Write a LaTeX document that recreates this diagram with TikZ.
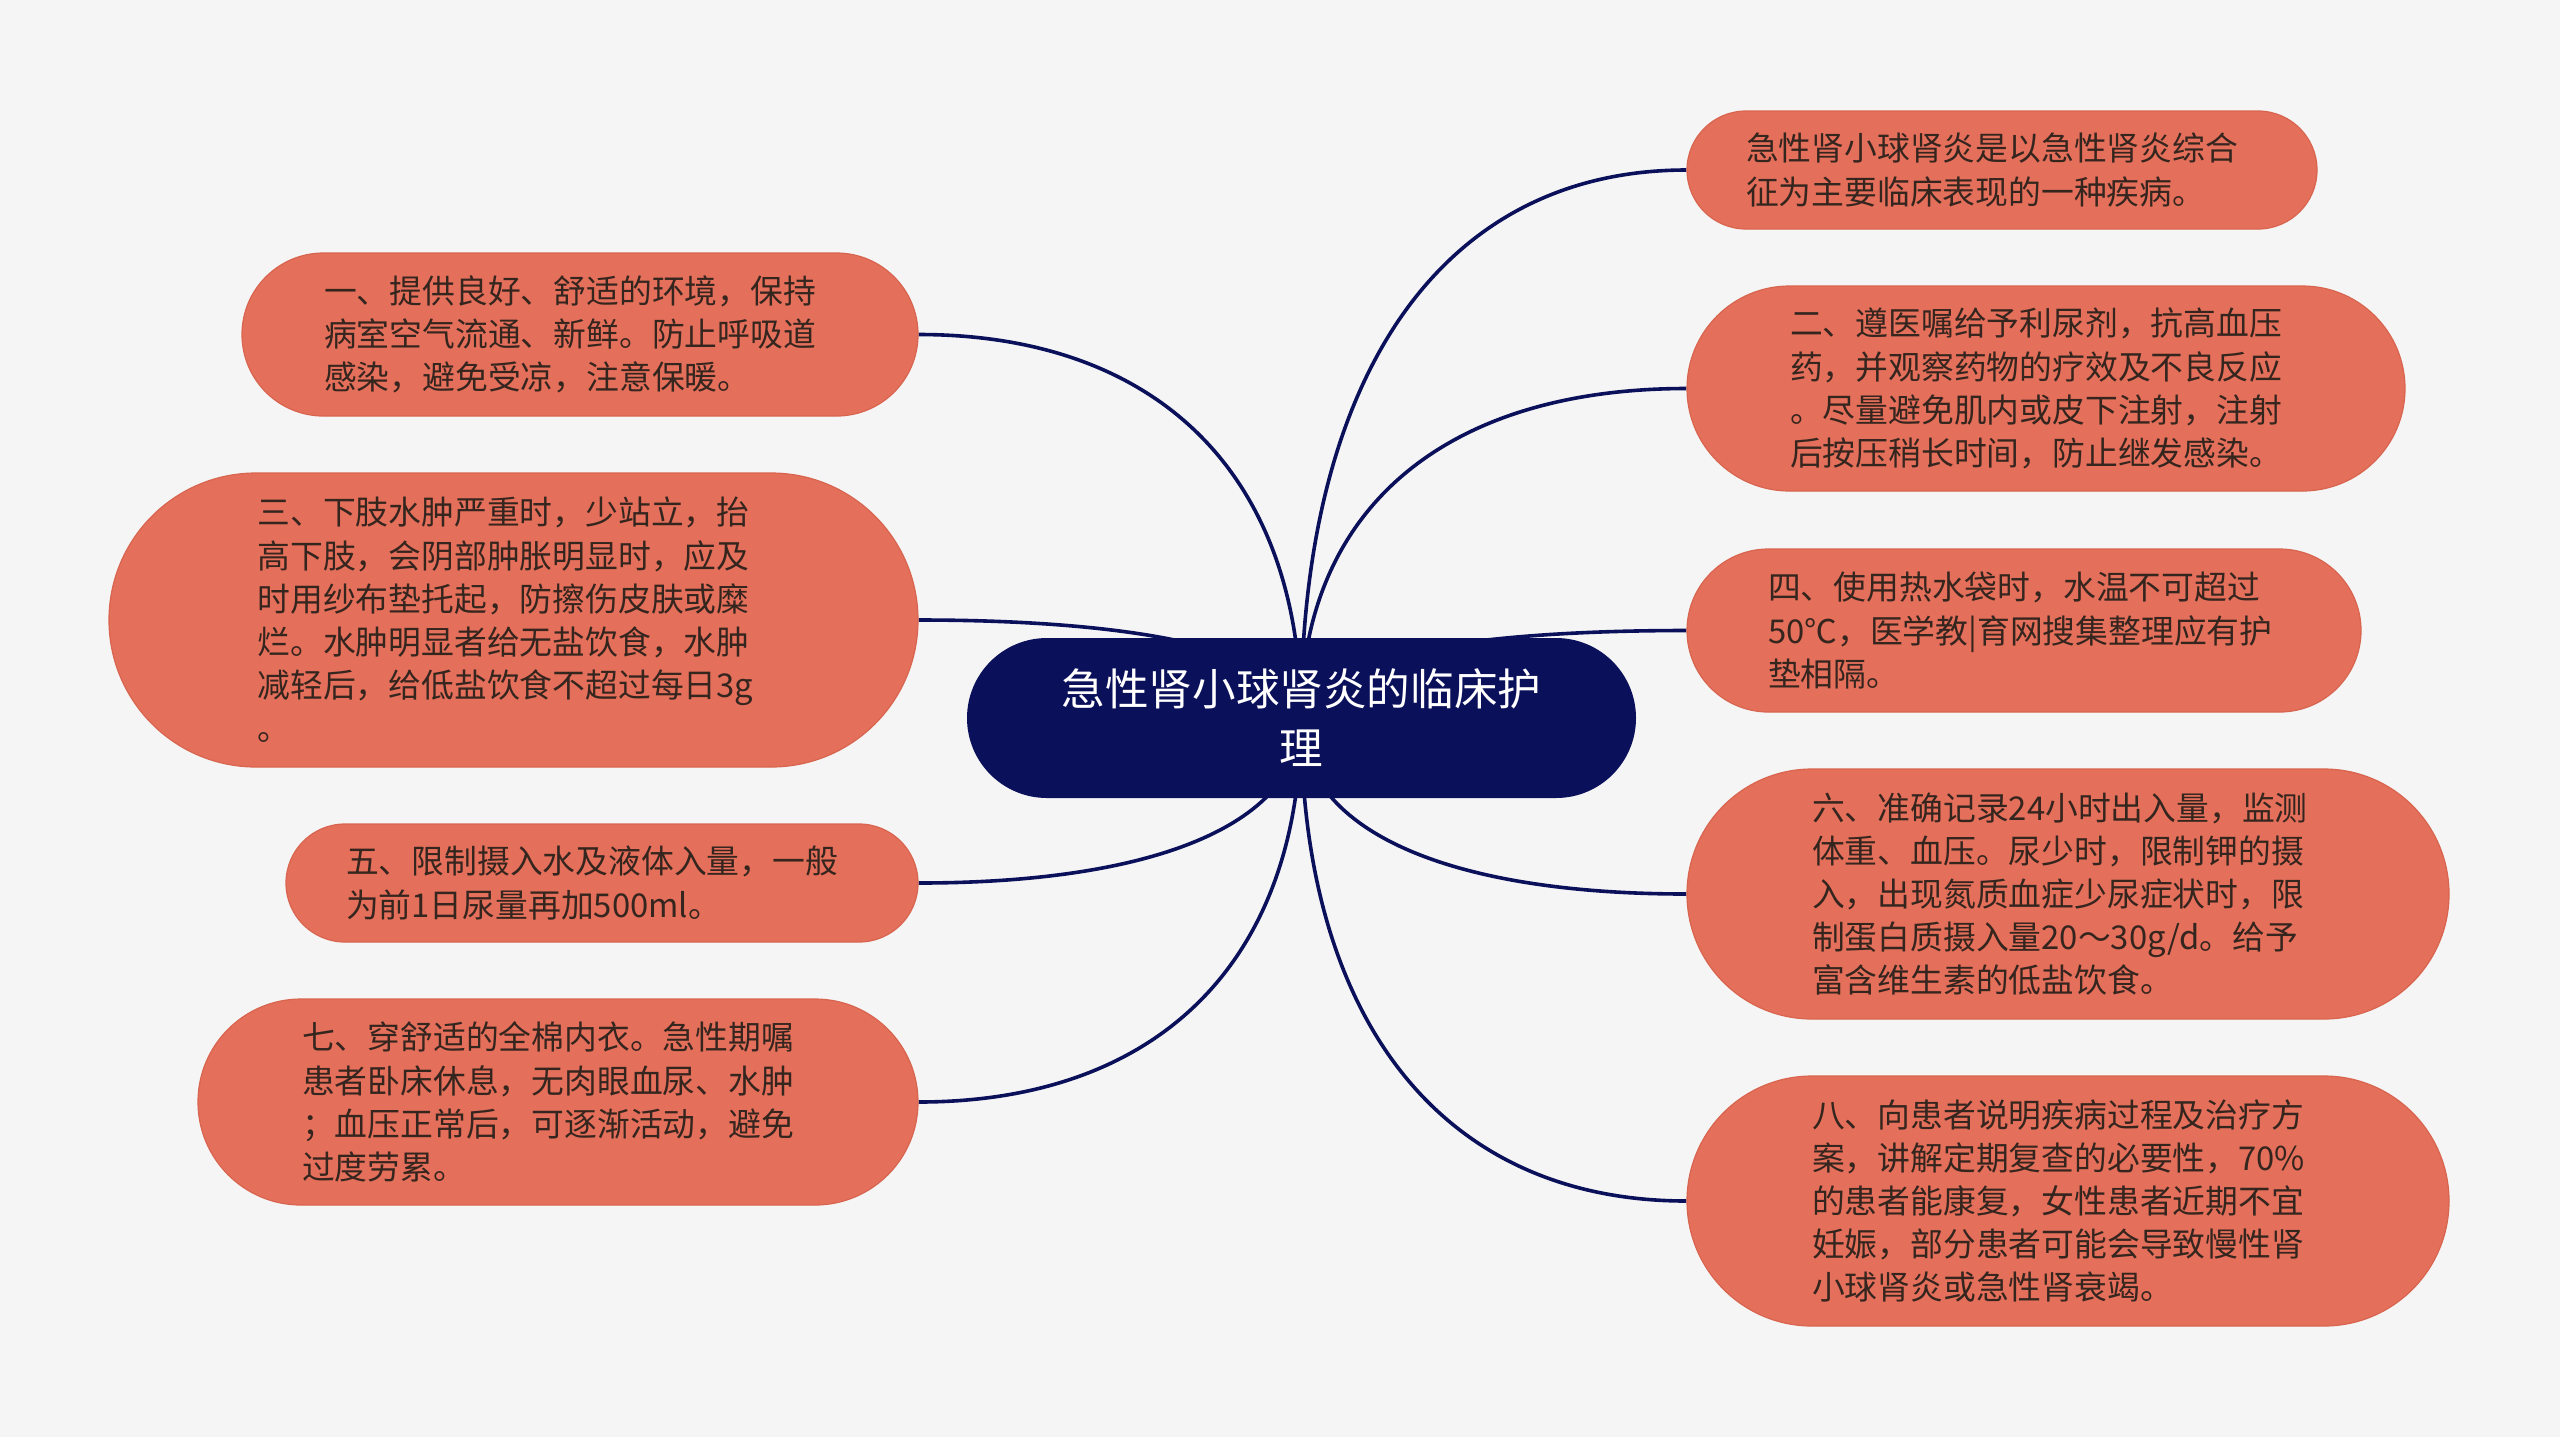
\documentclass[tikz,border=0pt]{standalone}
\usepackage{fontspec}
\newfontfamily\cjk{Noto Sans CJK SC}
\usetikzlibrary{calc}
\definecolor{bgc}{HTML}{F5F5F5}
\definecolor{leafc}{HTML}{E46F5A}
\definecolor{leafd}{HTML}{D8654F}
\definecolor{navy}{HTML}{0B105A}
\definecolor{txt}{HTML}{35251F}
\pgfdeclarelayer{bglayer}
\pgfdeclarelayer{lines}
\pgfsetlayers{bglayer,lines,main}
\tikzset{
  leaf/.style={rectangle, fill=leafc, draw=leafd, line width=0.6pt, text=txt,
    font=\cjk\fontsize{16.4pt}{21.6pt}\selectfont, align=left, text width=256pt, inner sep=0pt},
  root/.style={rectangle, fill=navy, text=white, align=center,
    font=\cjk\fontsize{21.8pt}{29.5pt}\selectfont, inner sep=0pt},
  link/.style={draw=navy, line width=1.8pt},
}
\begin{document}
\begin{tikzpicture}[x=0.5pt,y=-0.5pt]
\begin{pgfonlayer}{bglayer}
\fill[bgc] (0,0) rectangle (2560,1437);
\end{pgfonlayer}
\useasboundingbox (0,0) rectangle (2560,1437);

\node[root, minimum width=334.5pt, minimum height=80pt, rounded corners=40pt] (c) at (1301.5,718) {急性肾小球肾炎的临床护\\理};
\coordinate (c0) at (1301,718);

% left
\node[leaf, minimum width=338pt, minimum height=81.5pt, rounded corners=40.75pt] (n1) at (580,334.5)
 {一、提供良好、舒适的环境，保持\\病室空气流通、新鲜。防止呼吸道\\感染，避免受凉，注意保暖。};
\node[leaf, minimum width=404.5pt, minimum height=147pt, rounded corners=73.5pt] (n3) at (513.5,620)
 {三、下肢水肿严重时，少站立，抬\\高下肢，会阴部肿胀明显时，应及\\时用纱布垫托起，防擦伤皮肤或糜\\烂。水肿明显者给无盐饮食，水肿\\减轻后，给低盐饮食不超过每日3g\\。};
\node[leaf, minimum width=316pt, minimum height=59pt, rounded corners=29.5pt] (n5) at (602,883)
 {五、限制摄入水及液体入量，一般\\为前1日尿量再加500ml。};
\node[leaf, minimum width=360pt, minimum height=103pt, rounded corners=51.5pt] (n7) at (558,1102)
 {七、穿舒适的全棉内衣。急性期嘱\\患者卧床休息，无肉眼血尿、水肿\\；血压正常后，可逐渐活动，避免\\过度劳累。};

% right
\node[leaf, minimum width=315pt, minimum height=59pt, rounded corners=29.5pt] (na) at (2002,170)
 {急性肾小球肾炎是以急性肾炎综合\\征为主要临床表现的一种疾病。};
\node[leaf, minimum width=359pt, minimum height=102.5pt, rounded corners=51.25pt] (n2) at (2046,388.5)
 {二、遵医嘱给予利尿剂，抗高血压\\药，并观察药物的疗效及不良反应\\。尽量避免肌内或皮下注射，注射\\后按压稍长时间，防止继发感染。};
\node[leaf, minimum width=337pt, minimum height=81.5pt, rounded corners=40.75pt] (n4) at (2024,630.5)
 {四、使用热水袋时，水温不可超过\\50℃，医学教|育网搜集整理应有护\\垫相隔。};
\node[leaf, minimum width=381pt, minimum height=125pt, rounded corners=62.5pt] (n6) at (2068,894)
 {六、准确记录24小时出入量，监测\\体重、血压。尿少时，限制钾的摄\\入，出现氮质血症少尿症状时，限\\制蛋白质摄入量20～30g/d。给予\\富含维生素的低盐饮食。};
\node[leaf, minimum width=381pt, minimum height=125pt, rounded corners=62.5pt] (n8) at (2068,1201)
 {八、向患者说明疾病过程及治疗方\\案，讲解定期复查的必要性，70\%\\的患者能康复，女性患者近期不宜\\妊娠，部分患者可能会导致慢性肾\\小球肾炎或急性肾衰竭。};

\begin{pgfonlayer}{lines}
\foreach \n/\a in {n1/east,n3/east,n5/east,n7/east,na/west,n2/west,n4/west,n6/west,n8/west}{
  \draw[link] (c0) .. controls ($(c0)!0.63!(c0|-\n.\a)$) and ($(\n.\a)!0.63!(c0|-\n.\a)$) .. (\n.\a);
}
\end{pgfonlayer}
\end{tikzpicture}
\end{document}
